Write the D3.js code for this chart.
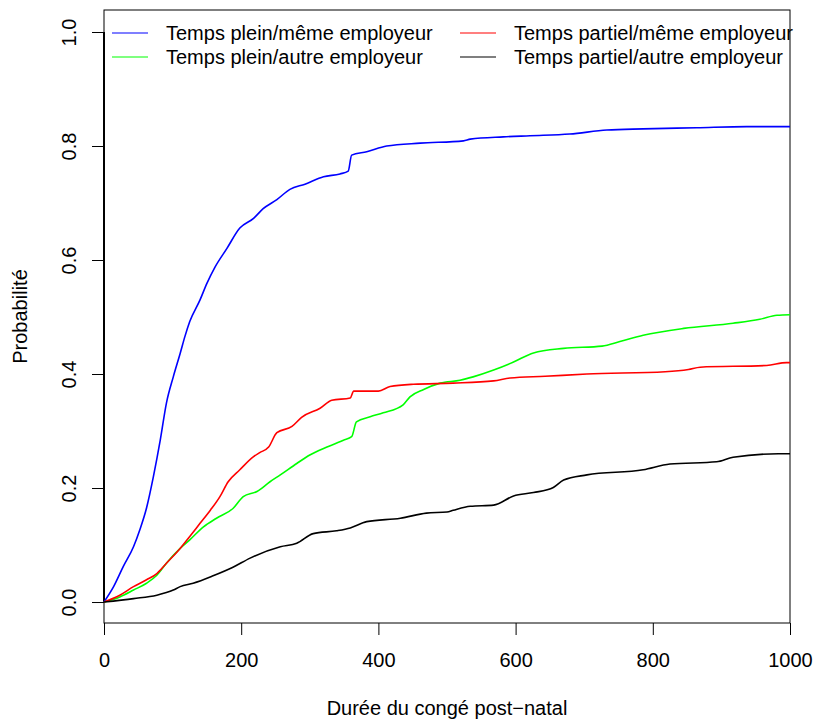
<!DOCTYPE html>
<html lang="fr">
<head>
<meta charset="utf-8">
<title>Probabilité</title>
<script src="https://cdn.jsdelivr.net/npm/d3@7"></script>
<style>
  body { margin: 0; background: #fff; }
  svg { font-family: "Liberation Sans", Arial, sans-serif; }
  .curve { fill: none; stroke-width: 1.6px; stroke-linejoin: round; }
</style>
</head>
<body>
<div id="chart"></div>
<script>
// series: [duree, probabilite]
var pleinMeme = [[0,0],[14,0.027],[28,0.062],[43,0.097],[52,0.126],[62,0.165],[72,0.22],[82,0.284],[91,0.349],[101,0.395],[111,0.436],[118,0.466],[125,0.492],[140,0.53],[150,0.559],[162,0.588],[179,0.62],[198,0.656],[218,0.673],[232,0.69],[252,0.706],[271,0.724],[293,0.733],[320,0.746],[344,0.751],[356,0.756],[361,0.784],[383,0.79],[412,0.80],[461,0.805],[524,0.809],[534,0.812],[582,0.816],[621,0.818],[679,0.821],[733,0.828],[786,0.830],[864,0.832],[937,0.834],[1000,0.834]];
var pleinAutre = [[0,0],[23,0.009],[43,0.021],[62,0.033],[77,0.047],[91,0.068],[111,0.094],[125,0.109],[145,0.132],[164,0.147],[188,0.164],[203,0.185],[223,0.194],[242,0.211],[257,0.223],[281,0.243],[300,0.258],[325,0.272],[349,0.284],[361,0.29],[368,0.316],[388,0.325],[407,0.332],[436,0.346],[446,0.36],[466,0.373],[490,0.384],[519,0.389],[538,0.395],[568,0.407],[597,0.421],[626,0.437],[670,0.445],[726,0.449],[752,0.457],[786,0.468],[845,0.48],[917,0.489],[956,0.496],[981,0.503],[1000,0.504]];
var partielMeme = [[0,0],[23,0.012],[43,0.027],[62,0.039],[77,0.05],[91,0.068],[111,0.094],[125,0.115],[140,0.138],[155,0.161],[169,0.185],[181,0.211],[198,0.232],[218,0.255],[227,0.262],[240,0.272],[252,0.297],[274,0.308],[288,0.324],[315,0.34],[332,0.354],[359,0.358],[364,0.37],[400,0.37],[417,0.378],[451,0.382],[509,0.384],[568,0.388],[592,0.393],[643,0.396],[704,0.40],[818,0.404],[852,0.408],[869,0.412],[966,0.415],[995,0.42],[1000,0.42]];
var partielAutre = [[0,0],[43,0.006],[77,0.012],[101,0.021],[111,0.027],[130,0.033],[159,0.046],[188,0.061],[213,0.077],[257,0.097],[281,0.103],[305,0.12],[339,0.125],[359,0.13],[383,0.141],[432,0.147],[470,0.156],[500,0.158],[509,0.161],[534,0.168],[568,0.17],[597,0.186],[626,0.192],[655,0.201],[670,0.214],[704,0.223],[786,0.232],[825,0.242],[893,0.246],[917,0.254],[983,0.26],[1000,0.26]];

var series = [pleinMeme, pleinAutre, partielMeme, partielAutre];
var labels = ["Temps plein/même employeur", "Temps plein/autre employeur", "Temps partiel/même employeur", "Temps partiel/autre employeur"];
var colors = ["#0000ff", "#00ff00", "#ff0000", "#000000"];
var xTicks = [0, 200, 400, 600, 800, 1000];
var yTicks = [0, 0.2, 0.4, 0.6, 0.8, 1.0];

var width = 814, height = 722;
var mLeft = 104, mRight = 790, mTop = 10, mBottom = 623;
var fs = 20;

var svg = d3.select("#chart").append("svg")
    .attr("width", width)
    .attr("height", height);

var x = d3.scaleLinear().domain([0, 1000]).range([mLeft, mRight]);
var y = d3.scaleLinear().domain([-0.0368, 1.0386]).range([mBottom, mTop]);

// axes
var xAxis = svg.append("g")
    .attr("transform", "translate(0," + mBottom + ")")
    .call(d3.axisBottom(x).tickValues(xTicks).tickSize(12).tickFormat(d3.format("d")));
xAxis.select(".domain").remove();
xAxis.selectAll("line").attr("stroke", "#000");
xAxis.selectAll("text")
    .attr("font-size", fs).attr("fill", "#000")
    .attr("font-family", "Liberation Sans, Arial, sans-serif")
    .attr("dy", null).attr("y", 44);

var yAxis = svg.append("g")
    .attr("transform", "translate(" + mLeft + ",0)")
    .call(d3.axisLeft(y).tickValues(yTicks).tickSize(12).tickFormat(d3.format(".1f")));
yAxis.select(".domain").remove();
yAxis.selectAll("line").attr("stroke", "#000");
yAxis.selectAll("text")
    .attr("font-size", fs)
    .attr("fill", "#000")
    .attr("font-family", "Liberation Sans, Arial, sans-serif")
    .attr("text-anchor", "middle")
    .attr("dy", null)
    .attr("x", null)
    .attr("transform", "translate(-28,0) rotate(-90)")
    .attr("y", 0);

// box
svg.append("rect")
    .attr("x", mLeft).attr("y", mTop)
    .attr("width", mRight - mLeft).attr("height", mBottom - mTop)
    .attr("fill", "none").attr("stroke", "#000").attr("stroke-width", 1);

// vertical segment at t = 0
svg.append("line")
    .attr("x1", x(0)).attr("x2", x(0))
    .attr("y1", y(0)).attr("y2", y(1))
    .attr("stroke", "#000").attr("stroke-width", 2);

var line = d3.line()
    .curve(d3.curveMonotoneX)
    .x(function(d) { return x(d[0]); })
    .y(function(d) { return y(d[1]); });

svg.selectAll(".curve")
    .data(series)
  .enter().append("path")
    .attr("class", "curve")
    .attr("stroke", function(d, i) { return colors[i]; })
    .attr("d", line);

// labels
svg.append("text")
    .attr("x", (mLeft + mRight) / 2).attr("y", 715)
    .attr("text-anchor", "middle").attr("font-size", fs)
    .text("Durée du congé post\u2212natal");

svg.append("text")
    .attr("transform", "translate(27," + (mTop + mBottom) / 2 + ") rotate(-90)")
    .attr("text-anchor", "middle").attr("font-size", fs)
    .text("Probabilité");

// legend
var legPos = [[112, 33], [112, 57], [460, 33], [460, 57]];
var leg = svg.selectAll(".leg")
    .data(labels)
  .enter().append("g")
    .attr("class", "leg")
    .attr("transform", function(d, i) { return "translate(" + legPos[i][0] + "," + legPos[i][1] + ")"; });
leg.append("line")
    .attr("x1", 0).attr("x2", 36)
    .attr("stroke", function(d, i) { return colors[i]; })
    .attr("stroke-width", 1.2);
leg.append("text")
    .attr("x", 54).attr("dy", "0.35em")
    .attr("font-size", fs)
    .text(function(d) { return d; });
</script>
</body>
</html>
